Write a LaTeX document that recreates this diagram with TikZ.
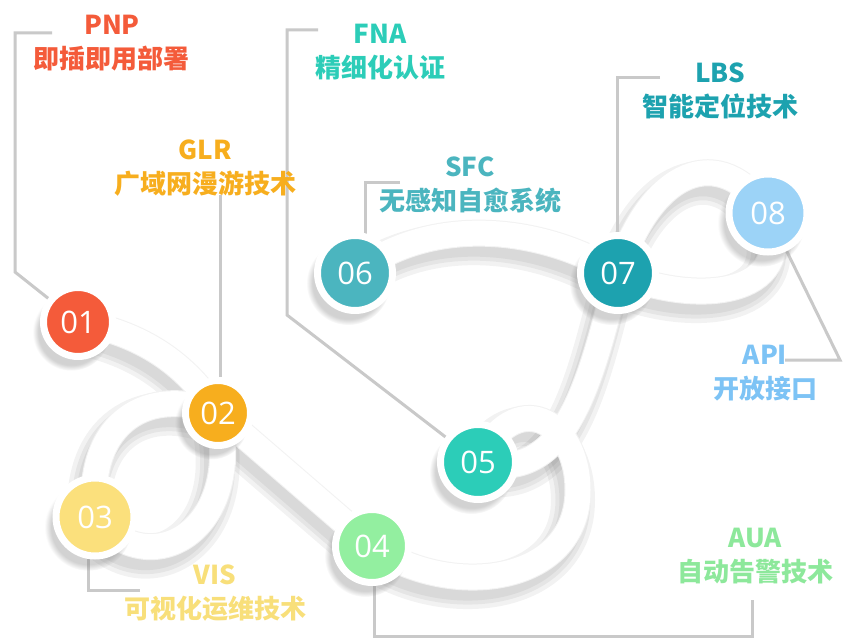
\documentclass[tikz,border=0pt]{standalone}
\usepackage{fontspec}
\setmainfont{Noto Sans CJK SC}
\newfontfamily\numfont{Open Sans}
\usetikzlibrary{backgrounds}
\usetikzlibrary{shadows}
\usepackage{xcolor}
\definecolor{pnp}{HTML}{F45B3A}
\definecolor{glr}{HTML}{F7AE1E}
\definecolor{vis}{HTML}{FBE07C}
\definecolor{aua}{HTML}{93EFA0}
\definecolor{fna}{HTML}{2CCDB8}
\definecolor{sfc}{HTML}{4BB5BF}
\definecolor{lbs}{HTML}{1DA2AF}
\definecolor{api}{HTML}{9CD3F7}
\definecolor{apitext}{HTML}{7DC3F5}
\definecolor{auatext}{HTML}{8DE89B}
\definecolor{vistext}{HTML}{F8DF7A}
\definecolor{wire}{HTML}{C9C9C9}
\tikzset{
	disc/.style={circle, draw=white, line width=7pt, inner sep=0pt, text=white,
		font=\numfont\fontsize{31}{31}\selectfont,
		circular drop shadow={shadow xshift=-6pt, shadow yshift=-9pt, opacity=.35, shadow scale=1.12}},
	tag/.style={align=center, font=\bfseries\fontsize{26}{34}\selectfont},
	leader/.style={draw=wire, line width=3pt},
	band/.style={draw=white, line width=25pt},
	bandedge/.style={draw=black!5, line width=27pt},
	bandshade/.style={draw=black, opacity=.05, line width=#1, transform canvas={shift={(-5,10)}}},
	shadewide/.style={bandshade=44pt},
	shademid/.style={bandshade=35pt},
	shadethin/.style={bandshade=27pt}
}

\begin{document}
\begin{tikzpicture}[x=1pt,y=-1pt]
		\useasboundingbox (0,0) rectangle (849,639);
		%circles
		\node[disc, fill=pnp, minimum size=69pt] (n1) at (78,322) {01};
		\node[disc, fill=glr, minimum size=65pt] (n2) at (218,413) {02};
		\node[disc, fill=vis, minimum size=78pt] (n3) at (95,517) {03};
		\node[disc, fill=aua, minimum size=73pt] (n4) at (372,546) {04};
		\node[disc, fill=fna, minimum size=75pt] (n5) at (478,462) {05};
		\node[disc, fill=sfc, minimum size=75pt] (n6) at (355,273) {06};
		\node[disc, fill=lbs, minimum size=75pt] (n7) at (618,273) {07};
		\node[disc, fill=api, minimum size=78pt] (n8) at (768,213) {08};
		%labels
		\node[tag, text=pnp] (pnp) at (112,43) {PNP\\即插即用部署};
		\node[tag, text=glr] (glr) at (205,168) {GLR\\广域网漫游技术};
		\node[tag, text=fna] (fna) at (380,52) {FNA\\精细化认证};
		\node[tag, text=sfc] (sfc) at (470,185) {SFC\\无感知自愈系统};
		\node[tag, text=lbs] (lbs) at (720,91) {LBS\\智能定位技术};
		\node[tag, text=apitext] (api) at (765,373) {API\\开放接口};
		\node[tag, text=auatext] (aua) at (755,556) {AUA\\自动告警技术};
		\node[tag, text=vistext] (vis) at (215,593) {VIS\\可视化运维技术};
		\begin{scope}[on background layer]
			\fill[white] (0,0) rectangle (849,639);
			%ribbon
			\foreach \look in {shadewide, shademid, shadethin, bandedge, band} {
				\draw[\look] (n1.center) .. controls (150,335) and (190,370) .. (n2.center);
				\draw[\look] (n2.center) .. controls (150,385) and (85,420) .. (n3.center);
				\draw[\look] (n3.center) .. controls (150,585) and (245,530) .. (n2.center);
				\draw[\look] (n2.center) -- (n4.center);
				\draw[\look] (n4.center) .. controls (450,600) and (578,585) .. (578,490) .. controls (578,420) and (515,385) .. (n5.center);
				\draw[\look] (n5.center) .. controls (565,485) and (590,385) .. (n7.center);
				\draw[\look] (n6.center) .. controls (430,215) and (540,225) .. (n7.center);
				\draw[\look] (n7.center) .. controls (650,170) and (720,140) .. (n8.center);
				\draw[\look] (n7.center) .. controls (690,305) and (800,300) .. (n8.center);
			}
			%leaders
			\draw[leader] (52,33) -- (15,33) -- (15,272) -- (n1.center);
			\draw[leader] (220,195) -- (220,400);
			\draw[leader] (318,30) -- (287,30) -- (287,315) -- (n5.center);
			\draw[leader] (400,183) -- (365,183) -- (365,260);
			\draw[leader] (660,78) -- (617,78) -- (617,260);
			\draw[leader] (785,360) -- (840,360) -- (n8.center);
			\draw[leader] (752,600) -- (752,636) -- (374,636) -- (374,560);
			\draw[leader] (140,590) -- (88,590) -- (88,530);
		\end{scope}
	\end{tikzpicture}
\end{document}
